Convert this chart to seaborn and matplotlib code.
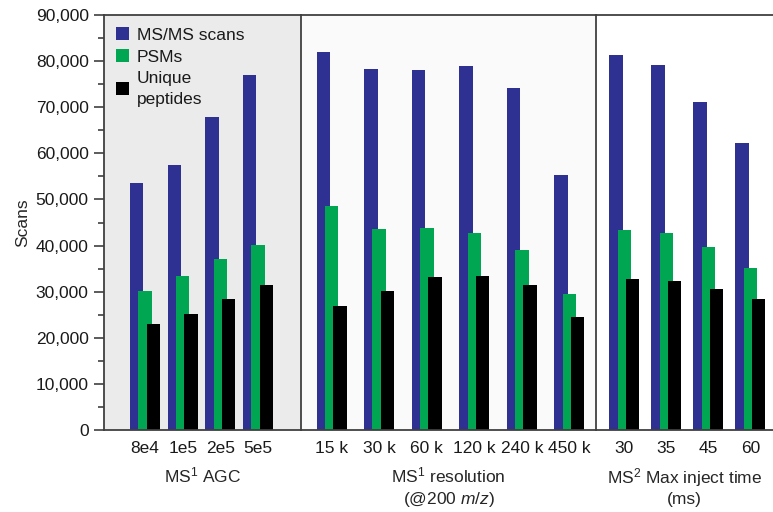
import numpy as np
import seaborn as sns
import matplotlib.pyplot as plt
from matplotlib.ticker import MultipleLocator, FuncFormatter

# data
agc_labels = ['8e4', '1e5', '2e5', '5e5']
agc_msms = [53600, 57400, 67800, 77000]
agc_psms = [30200, 33300, 37100, 40100]
agc_unique = [23000, 25200, 28400, 31500]

res_labels = ['15 k', '30 k', '60 k', '120 k', '240 k', '450 k']
res_msms = [82000, 78300, 78000, 79000, 74100, 55400]
res_psms = [48600, 43500, 43800, 42700, 39000, 29400]
res_unique = [27000, 30200, 33100, 33300, 31400, 24600]

mit_labels = ['30', '35', '45', '60']
mit_msms = [81300, 79200, 71100, 62200]
mit_psms = [43300, 42800, 39700, 35100]
mit_unique = [32700, 32400, 30600, 28400]

series_names = ['MS/MS scans', 'PSMs', 'Unique\npeptides']
series_colors = ['#2e3192', '#00a651', '#000000']

sections = [
    dict(labels=agc_labels, vals=[agc_msms, agc_psms, agc_unique],
         xlabel='MS$^1$ AGC', bg='#ebebeb', xlim=(-1.09, 4.14)),
    dict(labels=res_labels, vals=[res_msms, res_psms, res_unique],
         xlabel='MS$^1$ resolution\n(@200 $m/z$)', bg='#fafafa', xlim=(-0.646, 5.56)),
    dict(labels=mit_labels, vals=[mit_msms, mit_psms, mit_unique],
         xlabel='MS$^2$ Max inject time\n(ms)', bg='#ffffff', xlim=(-0.674, 3.54)),
]

sns.set_style('ticks')
plt.rcParams['font.family'] = ['Liberation Sans', 'DejaVu Sans']
plt.rcParams['mathtext.fontset'] = 'custom'
plt.rcParams['mathtext.rm'] = 'Liberation Sans'
plt.rcParams['mathtext.it'] = 'Liberation Sans:italic'
plt.rcParams['font.size'] = 12.5
plt.rcParams['text.color'] = '#1a1a1a'

W, H = 773, 512
widths = [197, 295, 177]
fig, axs = plt.subplots(1, 3, figsize=(W / 100, H / 100), dpi=100, sharey=True,
                        gridspec_kw=dict(width_ratios=widths, wspace=0,
                                         left=104 / W, right=1.0,
                                         bottom=(H - 430) / H, top=(H - 15) / H))

bar_px = 13.5
off_px = 8.35
spine_col = '#404040'

for ax, sec, wpx in zip(axs, sections, widths):
    lo, hi = sec['xlim']
    unit = wpx / (hi - lo)
    pos = np.arange(len(sec['labels']))
    for k, (vals, col, name) in enumerate(zip(sec['vals'], series_colors, series_names)):
        sns.barplot(x=pos + (k - 1) * off_px / unit, y=vals, native_scale=True,
                    width=bar_px / unit, color=col, saturation=1, linewidth=0,
                    label=name if ax is axs[0] else None, ax=ax)
    ax.set_facecolor(sec['bg'])
    ax.set_xlim(lo, hi)
    ax.set_xticks(pos)
    ax.set_xticklabels(sec['labels'])
    ax.tick_params(axis='x', length=0, pad=8, labelsize=12.5, labelcolor='#1a1a1a')
    ax.set_xlabel(sec['xlabel'], labelpad=7, fontsize=12.5, linespacing=1.3)
    for s in ['left', 'top', 'bottom']:
        ax.spines[s].set_color(spine_col)
        ax.spines[s].set_linewidth(1.3)
    ax.spines['right'].set_visible(False)

ax0 = axs[0]
ax0.set_ylim(0, 90000)
ax0.yaxis.set_major_locator(MultipleLocator(10000))
ax0.yaxis.set_minor_locator(MultipleLocator(5000))
ax0.yaxis.set_major_formatter(FuncFormatter(lambda v, p: f'{v:,.0f}'))
ax0.tick_params(axis='y', which='major', length=7, width=1.2, color=spine_col,
                labelsize=12.5, labelcolor='#1a1a1a', pad=4)
ax0.tick_params(axis='y', which='minor', length=4.5, width=1.2, color=spine_col)
ax0.set_ylabel('Scans', fontsize=12.5, labelpad=4)
for ax in axs[1:]:
    ax.tick_params(axis='y', which='both', left=False, labelleft=False)

leg = ax0.legend(loc='upper left', frameon=False, fontsize=12.5, handlelength=0.75,
                 handleheight=0.75, handletextpad=0.45, labelspacing=0.38,
                 borderaxespad=0.5, borderpad=0.2)
for t in leg.get_texts():
    t.set_linespacing(1.45)

fig.savefig('out.png', dpi=100)
